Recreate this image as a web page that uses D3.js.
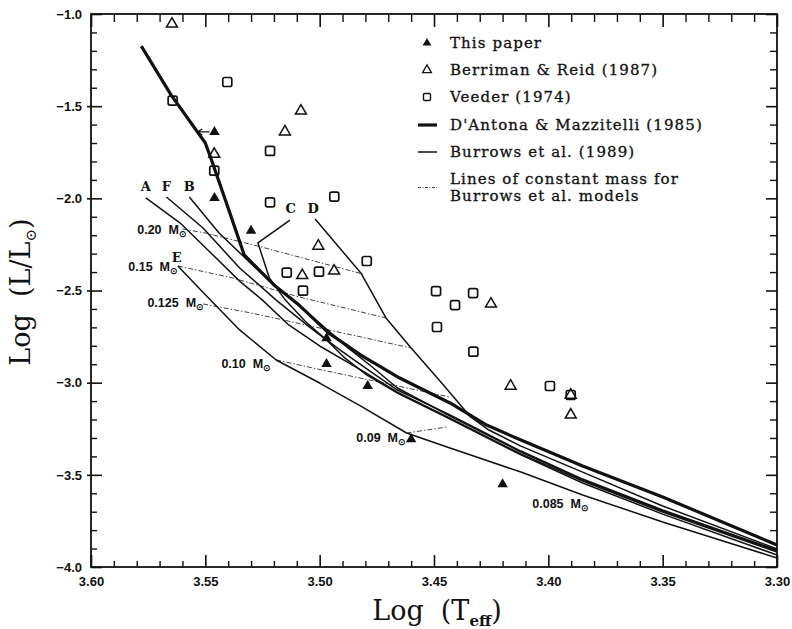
<!DOCTYPE html>
<html><head><meta charset="utf-8">
<script src="https://cdn.jsdelivr.net/npm/d3@7"></script>
<style>body{margin:0;background:#fff}svg{display:block}</style>
</head><body>
<svg id="c" width="792" height="629"></svg>
<script>
// ---------- axes ----------
const xDomain = [3.60, 3.30];
const yDomain = [-1.0, -4.0];
const xMajor = [3.60, 3.55, 3.50, 3.45, 3.40, 3.35, 3.30];
const xTickLabels = ["3.60", "3.55", "3.50", "3.45", "3.40", "3.35", "3.30"];
const yMajor = [-1.0, -1.5, -2.0, -2.5, -3.0, -3.5, -4.0];
const yTickLabels = ["\u22121.0", "\u22121.5", "\u22122.0", "\u22122.5", "\u22123.0", "\u22123.5", "\u22124.0"];

// ---------- observed points ----------
const thisPaperTeff = [3.546, 3.546, 3.530, 3.497, 3.497, 3.479, 3.460, 3.420];
const thisPaperLum  = [-1.640, -1.998, -2.176, -2.759, -2.899, -3.018, -3.307, -3.551];
const upperLimitTeff = [3.546];
const upperLimitLum  = [-1.640];
const upperLimitTo   = [3.5535];

const berrimanTeff = [3.5646, 3.5461, 3.5152, 3.5082, 3.5006, 3.5076, 3.4937, 3.4251, 3.4165, 3.3902, 3.3902];
const berrimanLum  = [-1.054, -1.760, -1.639, -1.526, -2.259, -2.418, -2.394, -2.573, -3.018, -3.175, -3.067];

const veederTeff = [3.5643, 3.5404, 3.5461, 3.5217, 3.5217, 3.4936, 3.5144, 3.5003, 3.5073, 3.4794, 3.4491, 3.4408, 3.4329, 3.4487, 3.4328, 3.3993, 3.3902];
const veederLum  = [-1.470, -1.369, -1.850, -1.743, -2.022, -1.991, -2.403, -2.398, -2.501, -2.340, -2.503, -2.579, -2.514, -2.698, -2.832, -3.018, -3.067];

// ---------- D'Antona & Mazzitelli (1985) ----------
const dmTeff = [3.578, 3.565, 3.550, 3.547, 3.540, 3.533, 3.530, 3.520, 3.509, 3.496, 3.482, 3.465, 3.443, 3.427, 3.412, 3.385, 3.350, 3.300];
const dmLum  = [-1.174, -1.439, -1.700, -1.803, -2.053, -2.307, -2.345, -2.470, -2.579, -2.731, -2.850, -2.975, -3.110, -3.230, -3.311, -3.452, -3.620, -3.881];

// ---------- Burrows et al. (1989) models ----------
const aTeff = [3.576, 3.561, 3.548, 3.535, 3.525, 3.514, 3.500, 3.482, 3.466, 3.443, 3.412, 3.385, 3.350, 3.300];
const aLum  = [-1.998, -2.134, -2.291, -2.449, -2.552, -2.682, -2.801, -2.931, -3.051, -3.192, -3.387, -3.534, -3.702, -3.919];
const fTeff = [3.567, 3.551, 3.535, 3.519, 3.504, 3.491, 3.478, 3.466, 3.443, 3.412, 3.385, 3.350, 3.300];
const fLum  = [-1.993, -2.161, -2.378, -2.552, -2.703, -2.823, -2.937, -3.040, -3.175, -3.371, -3.523, -3.691, -3.908];
const bTeff = [3.557, 3.544, 3.528, 3.512, 3.499, 3.488, 3.477, 3.466, 3.443, 3.412, 3.385, 3.350, 3.300];
const bLum  = [-1.993, -2.188, -2.378, -2.552, -2.687, -2.807, -2.915, -3.029, -3.181, -3.376, -3.528, -3.696, -3.913];
const cTeff = [3.513, 3.527, 3.522, 3.515, 3.506, 3.497, 3.489, 3.480, 3.466, 3.443, 3.412, 3.385, 3.350, 3.300];
const cLum  = [-2.118, -2.242, -2.432, -2.552, -2.671, -2.769, -2.866, -2.953, -3.056, -3.197, -3.392, -3.544, -3.713, -3.935];
const dTeff = [3.502, 3.482, 3.471, 3.460, 3.447, 3.434, 3.426, 3.412, 3.385, 3.350, 3.300];
const dLum  = [-2.112, -2.405, -2.649, -2.812, -2.996, -3.186, -3.257, -3.344, -3.485, -3.669, -3.902];
const eTeff = [3.562, 3.552, 3.535, 3.519, 3.500, 3.482, 3.462, 3.443, 3.412, 3.385, 3.350, 3.325, 3.300];
const eLum  = [-2.367, -2.497, -2.714, -2.877, -3.002, -3.127, -3.273, -3.354, -3.485, -3.609, -3.756, -3.854, -3.951];

const modelNames = ["A", "F", "B", "C", "D", "E"];
const modelLabelTeff = [3.576, 3.567, 3.557, 3.5127, 3.5028, 3.5625];
const modelLabelLum  = [-1.933, -1.933, -1.933, -2.052, -2.052, -2.318];

// ---------- lines of constant mass ----------
const m020Teff = [3.560, 3.550, 3.527, 3.504, 3.481];
const m020Lum  = [-2.166, -2.188, -2.259, -2.335, -2.411];
const m015Teff = [3.562, 3.538, 3.509, 3.471];
const m015Lum  = [-2.367, -2.432, -2.535, -2.649];
const m0125Teff = [3.551, 3.530, 3.506, 3.482, 3.460];
const m0125Lum  = [-2.573, -2.622, -2.687, -2.752, -2.812];
const m010Teff = [3.519, 3.499, 3.472, 3.443];
const m010Lum  = [-2.877, -2.931, -3.002, -3.078];
const m009Teff = [3.462, 3.444];
const m009Lum  = [-3.273, -3.240];

const massLabels = ["0.20", "0.15", "0.125", "0.10", "0.09", "0.085"];
const massLabelTeff = [3.5598, 3.5637, 3.5523, 3.5230, 3.4640, 3.3840];
const massLabelLum  = [-2.177, -2.378, -2.573, -2.904, -3.306, -3.664];

// ---------- legend ----------
const legendLabels = ["This paper", "Berriman & Reid (1987)", "Veeder (1974)", "D'Antona & Mazzitelli (1985)", "Burrows et al. (1989)", "Lines of constant mass for", "Burrows et al. models"];

// =========================================================
const svg = d3.select("#c");
const L = 91, R = 777, T = 14, B = 567;
const x = d3.scaleLinear().domain(xDomain).range([L, R]);
const y = d3.scaleLinear().domain(yDomain).range([T, B]);
const near = (a, b) => Math.abs(a - b) < 1e-6;
const xMinor = x.ticks(30).filter(v => !xMajor.some(m => near(m, v)));
const yMinor = y.ticks(30).filter(v => !yMajor.some(m => near(m, v)));

const INK = "#111";
const tickFont = "'Liberation Sans', Arial, sans-serif";
const serif = "'DejaVu Serif', 'Liberation Serif', serif";

function styleAxis(g, w) {
  g.select(".domain").remove();
  g.selectAll("line").attr("stroke", INK).attr("stroke-width", w);
  g.selectAll("text").attr("fill", INK).attr("font-family", tickFont).attr("font-weight", "bold").attr("font-size", 13);
}

// bottom
svg.append("g").attr("transform", `translate(0,${B})`)
  .call(d3.axisBottom(x).tickValues(xMajor).tickSizeInner(-12).tickSizeOuter(0).tickPadding(10)
    .tickFormat((d, i) => xTickLabels[i])).call(g => styleAxis(g, 1.6));
svg.append("g").attr("transform", `translate(0,${B})`)
  .call(d3.axisBottom(x).tickValues(xMinor).tickSize(-6).tickFormat("")).call(g => styleAxis(g, 1.4));
// top
svg.append("g").attr("transform", `translate(0,${T})`)
  .call(d3.axisTop(x).tickValues(xMajor).tickSize(-13).tickFormat("")).call(g => styleAxis(g, 1.6));
svg.append("g").attr("transform", `translate(0,${T})`)
  .call(d3.axisTop(x).tickValues(xMinor).tickSize(-8).tickFormat("")).call(g => styleAxis(g, 1.4));
// left
svg.append("g").attr("transform", `translate(${L},0)`)
  .call(d3.axisLeft(y).tickValues(yMajor).tickSizeInner(-11).tickSizeOuter(0).tickPadding(9)
    .tickFormat((d, i) => yTickLabels[i])).call(g => styleAxis(g, 1.6));
svg.append("g").attr("transform", `translate(${L},0)`)
  .call(d3.axisLeft(y).tickValues(yMajor.slice(1, -1)).tickSize(4).tickFormat("")).call(g => styleAxis(g, 1.6));
svg.append("g").attr("transform", `translate(${L},0)`)
  .call(d3.axisLeft(y).tickValues(yMinor).tickSize(-6).tickFormat("")).call(g => styleAxis(g, 1.4));
// right
svg.append("g").attr("transform", `translate(${R},0)`)
  .call(d3.axisRight(y).tickValues(yMajor).tickSize(-11).tickFormat("")).call(g => styleAxis(g, 1.6));
svg.append("g").attr("transform", `translate(${R},0)`)
  .call(d3.axisRight(y).tickValues(yMinor).tickSize(-7).tickFormat("")).call(g => styleAxis(g, 1.4));

svg.append("rect").attr("x", L).attr("y", T).attr("width", R - L).attr("height", B - T)
  .attr("fill", "none").attr("stroke", INK).attr("stroke-width", 1.8);

// axis titles
const yt = svg.append("text").attr("transform", "translate(30,292) rotate(-90)")
  .attr("text-anchor", "middle").attr("font-family", serif).attr("font-size", 27).attr("fill", INK)
  .style("white-space", "pre");
yt.append("tspan").text("Log  (L/L");
yt.append("tspan").attr("dy", 6).attr("font-size", 15).text("\u2299");
yt.append("tspan").attr("dy", -6).text(")");

const xt = svg.append("text").attr("x", 437).attr("y", 620)
  .attr("text-anchor", "middle").attr("font-family", serif).attr("font-size", 27).attr("fill", INK)
  .style("white-space", "pre");
xt.append("tspan").text("Log  (T");
xt.append("tspan").attr("dy", 6).attr("font-size", 15).attr("font-weight", "bold").text("eff");
xt.append("tspan").attr("dy", -6).text(")");

// ---------- curves ----------
const line = d3.line().x(d => x(d[0])).y(d => y(d[1]));
const plot = svg.append("g");

const massSets = [[m020Teff, m020Lum], [m015Teff, m015Lum], [m0125Teff, m0125Lum], [m010Teff, m010Lum], [m009Teff, m009Lum]];
plot.selectAll("path.mass").data(massSets).join("path").attr("class", "mass")
  .attr("d", s => line(d3.zip(s[0], s[1])))
  .attr("fill", "none").attr("stroke", "#444").attr("stroke-width", 1)
  .attr("stroke-dasharray", "5,2,1.5,2");

const burrowsSets = [[aTeff, aLum], [fTeff, fLum], [bTeff, bLum], [cTeff, cLum], [dTeff, dLum], [eTeff, eLum]];
plot.selectAll("path.burrows").data(burrowsSets).join("path").attr("class", "burrows")
  .attr("d", s => line(d3.zip(s[0], s[1])))
  .attr("fill", "none").attr("stroke", INK).attr("stroke-width", 1.5).attr("stroke-linejoin", "round");

plot.append("path").attr("d", line(d3.zip(dmTeff, dmLum)))
  .attr("fill", "none").attr("stroke", INK).attr("stroke-width", 3.2).attr("stroke-linejoin", "round");

// model labels
plot.selectAll("text.model").data(modelNames).join("text").attr("class", "model")
  .attr("x", (d, i) => x(modelLabelTeff[i])).attr("y", (d, i) => y(modelLabelLum[i]))
  .attr("dy", "0.36em").attr("text-anchor", "middle")
  .attr("font-family", serif).attr("font-weight", "bold").attr("font-size", 13).attr("fill", INK)
  .text(d => d);

// mass labels
const ml = plot.selectAll("text.massl").data(massLabels).join("text").attr("class", "massl")
  .attr("x", (d, i) => x(massLabelTeff[i]) + 4).attr("y", (d, i) => y(massLabelLum[i]) + 3)
  .attr("text-anchor", "end").attr("font-family", tickFont).attr("font-weight", "bold")
  .attr("font-size", 12.5).attr("fill", INK)
  .style("white-space", "pre");
ml.append("tspan").text(d => d + "  M");
ml.append("tspan").attr("dy", 3).attr("font-size", 9).text("\u2299");

// ---------- points ----------
const triFilled = d3.symbol(d3.symbolTriangle, 48);
const triOpen = d3.symbol(d3.symbolTriangle, 52);

plot.selectAll("path.tp").data(d3.zip(thisPaperTeff, thisPaperLum)).join("path").attr("class", "tp")
  .attr("transform", d => `translate(${x(d[0])},${y(d[1])})`).attr("d", triFilled).attr("fill", INK);

// upper-limit arrow
plot.selectAll("path.arrow").data(d3.zip(upperLimitTeff, upperLimitLum, upperLimitTo)).join("path").attr("class", "arrow")
  .attr("d", d => {
    const x0 = x(d[0]) - 5, x1 = x(d[2]), yy = y(d[1]);
    return `M${x0},${yy}L${x1},${yy}M${x1 + 5},${yy - 3}L${x1},${yy}L${x1 + 5},${yy + 3}`;
  })
  .attr("fill", "none").attr("stroke", INK).attr("stroke-width", 1.3);

plot.selectAll("path.br").data(d3.zip(berrimanTeff, berrimanLum)).join("path").attr("class", "br")
  .attr("transform", d => `translate(${x(d[0])},${y(d[1])})`).attr("d", triOpen)
  .attr("fill", "none").attr("stroke", INK).attr("stroke-width", 1.5);

plot.selectAll("rect.vd").data(d3.zip(veederTeff, veederLum)).join("rect").attr("class", "vd")
  .attr("x", d => x(d[0]) - 4.5).attr("y", d => y(d[1]) - 4.5).attr("width", 9).attr("height", 9)
  .attr("rx", 1.8).attr("fill", "none").attr("stroke", INK).attr("stroke-width", 1.7);

// ---------- legend ----------
const lg = svg.append("g");
const lx = 427, tx = 450;
const rowY = [43, 70, 97, 125, 152, 179, 196];
lg.append("path").attr("transform", `translate(${lx},${rowY[0]})`).attr("d", d3.symbol(d3.symbolTriangle, 34)).attr("fill", INK);
lg.append("path").attr("transform", `translate(${lx},${rowY[1]})`).attr("d", d3.symbol(d3.symbolTriangle, 34))
  .attr("fill", "none").attr("stroke", INK).attr("stroke-width", 1.3);
lg.append("rect").attr("x", lx - 3.5).attr("y", rowY[2] - 3.5).attr("width", 7).attr("height", 7).attr("rx", 1.2)
  .attr("fill", "none").attr("stroke", INK).attr("stroke-width", 1.4);
lg.append("line").attr("x1", 418).attr("x2", 437).attr("y1", rowY[3]).attr("y2", rowY[3]).attr("stroke", INK).attr("stroke-width", 3.2);
lg.append("line").attr("x1", 418).attr("x2", 437).attr("y1", rowY[4]).attr("y2", rowY[4]).attr("stroke", INK).attr("stroke-width", 1.5);
lg.append("line").attr("x1", 418).attr("x2", 437).attr("y1", (rowY[5] + rowY[6]) / 2).attr("y2", (rowY[5] + rowY[6]) / 2)
  .attr("stroke", "#444").attr("stroke-width", 1).attr("stroke-dasharray", "3,1.5,1,1.5");
lg.selectAll("text").data(legendLabels).join("text")
  .attr("x", tx).attr("y", (d, i) => rowY[i]).attr("dy", "0.34em")
  .attr("font-family", serif).attr("font-size", 15).attr("letter-spacing", 1.1).attr("fill", INK)
  .attr("stroke", INK).attr("stroke-width", 0.3)
  .text(d => d);
</script>
</body></html>
